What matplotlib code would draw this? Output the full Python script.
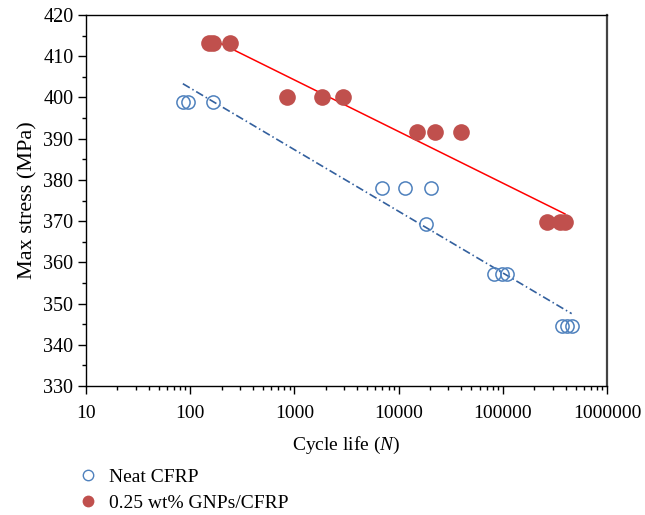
import numpy as np
import matplotlib
matplotlib.use("Agg")
import matplotlib.pyplot as plt
from matplotlib.ticker import FixedLocator, FuncFormatter, LogLocator, MultipleLocator
from matplotlib.lines import Line2D

plt.rcParams["font.family"] = ["Liberation Serif", "DejaVu Serif"]
plt.rcParams["mathtext.fontset"] = "custom"
plt.rcParams["mathtext.rm"] = "Liberation Serif"
plt.rcParams["mathtext.it"] = "Liberation Serif:italic"

# fatigue data
neat_cycles = [85, 95, 166, 6900, 11500, 20300, 18200, 82400, 98900, 110000, 367000, 410000, 458000]
neat_stress = [399, 399, 399, 378, 378, 378, 369.2, 357.2, 357.2, 357.2, 344.5, 344.5, 344.5]

gnp_cycles = [151, 166, 241, 849, 1840, 2925, 15100, 22500, 39700, 264000, 354000, 395000]
gnp_stress = [413.2, 413.2, 413.2, 400.2, 400.2, 400.2, 391.5, 391.5, 391.5, 369.8, 369.8, 369.8]

y_ticks = [330, 340, 350, 360, 370, 380, 390, 400, 410, 420]
x_ticks = [10, 100, 1000, 10000, 100000, 1000000]

neat_color = "#4F81BD"
gnp_color = "#C0504D"

fig = plt.figure(figsize=(6.45, 5.15), dpi=100)
ax = fig.add_axes([86 / 645, 1 - 386 / 515, 521 / 645, 371 / 515])


def log_trend(x, y):
    # logarithmic trendline, same as the spreadsheet one
    lx = np.log10(x)
    b, a = np.polyfit(lx, y, 1)
    xs = np.array([min(x), max(x)])
    return xs, a + b * np.log10(xs)


tx, ty = log_trend(neat_cycles, neat_stress)
ax.plot(tx, ty, color="#33609E", lw=1.2, linestyle=(0, (4.8, 1.8, 0.9, 1.8)), zorder=2)
tx, ty = log_trend(gnp_cycles, gnp_stress)
ax.plot(tx, ty, color="#FF0000", lw=1.1, zorder=2)

ax.plot(neat_cycles, neat_stress, "o", ms=9.5, mfc="none", mec=neat_color, mew=1.1, zorder=3)
ax.plot(gnp_cycles, gnp_stress, "o", ms=12, mfc=gnp_color, mec="none", zorder=3)

ax.set_xscale("log")
ax.set_xlim(10, 1000000)
ax.set_ylim(330, 420)
ax.xaxis.set_major_locator(FixedLocator(x_ticks))
ax.xaxis.set_minor_locator(LogLocator(base=10, subs=np.arange(2, 10), numticks=20))
ax.xaxis.set_major_formatter(FuncFormatter(lambda v, p: f"{int(round(v))}"))
ax.yaxis.set_major_locator(FixedLocator(y_ticks))
ax.yaxis.set_minor_locator(MultipleLocator(5))

ax.tick_params(which="major", direction="out", length=6, width=1, labelsize=14, pad=3)
ax.tick_params(which="minor", direction="out", length=3, width=1)
ax.tick_params(axis="x", which="major", pad=8)
ax.tick_params(axis="y", which="major", labelsize=14.5)

for side in ["left", "bottom", "top"]:
    ax.spines[side].set_linewidth(1.0)
    ax.spines[side].set_color("black")
ax.spines["right"].set_linewidth(1.6)
ax.spines["right"].set_color("#444444")

ax.set_ylabel("Max stress (MPa)", fontsize=16, labelpad=4)
ax.set_xlabel("Cycle life ($N$)", fontsize=14, labelpad=9)

handles = [
    Line2D([], [], ls="none", marker="o", ms=7.5, mfc="none", mec=neat_color, mew=1.0),
    Line2D([], [], ls="none", marker="o", ms=8.5, mfc=gnp_color, mec="none"),
]
fig.legend(handles, ["Neat CFRP", "0.25 wt% GNPs/CFRP"], loc="upper left",
           bbox_to_anchor=(78 / 645, 1 - 468 / 515), frameon=False, fontsize=14,
           handlelength=1.0, handletextpad=0.6, borderaxespad=0, borderpad=0,
           labelspacing=0.45)

fig.savefig("out.png", dpi=100)
